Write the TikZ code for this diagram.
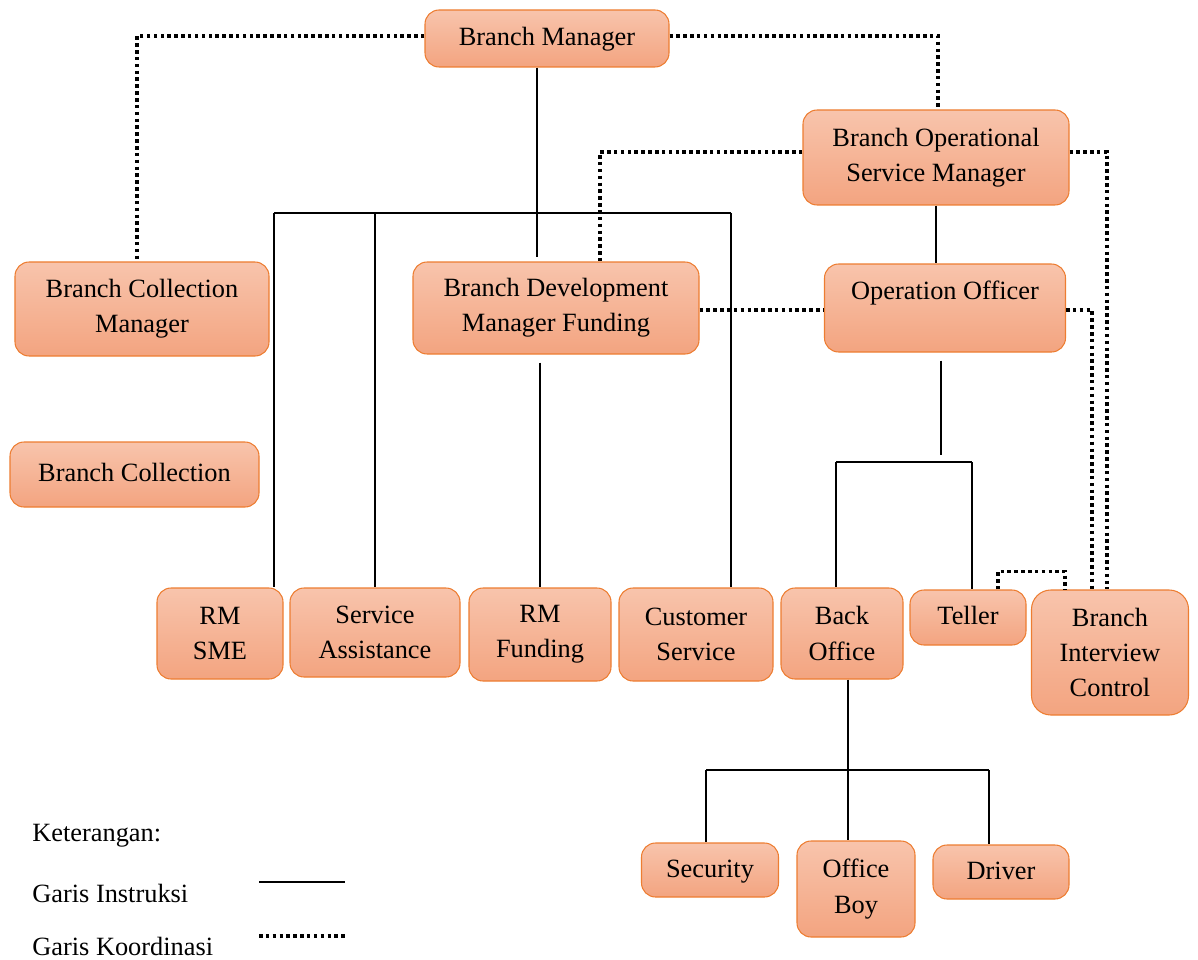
\documentclass[tikz,border=0pt]{standalone}
\usepackage{fontspec}
\setmainfont{Liberation Serif}
\usetikzlibrary{calc}

\definecolor{boxtop}{RGB}{248,196,172}
\definecolor{boxbot}{RGB}{243,164,128}
\definecolor{boxline}{RGB}{237,125,49}

\tikzset{
	box/.style={draw=boxline, line width=0.6pt, rounded corners=8pt, top color=boxtop, bottom color=boxbot, align=center, inner sep=0pt, font=\fontsize{15}{20}\selectfont},
	instr/.style={line width=0.6pt},
	instrthick/.style={line width=1.2pt},
	koord/.style={line width=2.2pt, dash pattern=on 2pt off 1.9pt},
	legend/.style={anchor=west, inner sep=0pt, font=\fontsize{15}{20}\selectfont}
}

\begin{document}
\begin{tikzpicture}
	\useasboundingbox (0,0) rectangle (23.96,-19.2);

% boxes

	% top
	\node[box, minimum width=4.88cm, minimum height=1.14cm] (bm) at (10.94,-0.77) {\strut Branch Manager};
	\node[box, minimum width=5.32cm, minimum height=1.9cm] (bosm) at (18.72,-3.15) {Branch Operational\\Service Manager};
	
	% middle
	\node[box, minimum width=5.08cm, minimum height=1.88cm] (bcm) at (2.84,-6.18) {Branch Collection\\Manager};
	\node[box, minimum width=5.72cm, minimum height=1.84cm] (bdm) at (11.12,-6.16) {Branch Development\\Manager Funding};
	\node[box, minimum width=4.82cm, minimum height=1.76cm] (oo) at (18.9,-6.16) {Operation Officer\\~};
	\node[box, minimum width=4.98cm, minimum height=1.3cm] (bc) at (2.69,-9.49) {\strut Branch Collection};
	
	% staff row
	\node[box, minimum width=2.52cm, minimum height=1.82cm] (rmsme) at (4.4,-12.67) {RM\\SME};
	\node[box, minimum width=3.4cm, minimum height=1.78cm] (sa) at (7.5,-12.65) {Service\\Assistance};
	\node[box, minimum width=2.84cm, minimum height=1.86cm] (rmf) at (10.8,-12.69) {RM\\Funding};
	\node[box, minimum width=3.08cm, minimum height=1.86cm] (cs) at (13.92,-12.69) {Customer\\Service};
	\node[box, minimum width=2.44cm, minimum height=1.82cm] (bo) at (16.84,-12.67) {Back\\Office};
	\node[box, minimum width=2.32cm, minimum height=1.1cm] (teller) at (19.36,-12.35) {\strut Teller};
	\node[box, rounded corners=11pt, minimum width=3.14cm, minimum height=2.5cm] (bic) at (22.2,-13.05) {Branch\\Interview\\Control};
	
	% bottom
	\node[box, minimum width=2.74cm, minimum height=1.08cm] (sec) at (14.2,-17.4) {\strut Security};
	\node[box, minimum width=2.36cm, minimum height=1.92cm] (ob) at (17.12,-17.78) {Office\\Boy};
	\node[box, minimum width=2.72cm, minimum height=1.08cm] (drv) at (20.02,-17.44) {\strut Driver};

% instruction lines

	\coordinate (trunk) at (10.74,-5.14);
	\coordinate (busL) at (5.48,-4.26);
	\coordinate (busR) at (14.62,-4.26);
	\draw[instrthick] (trunk |- bm.south) -- (trunk);
	\draw[instr] (busL) -- (busR);
	\draw[instr] (busL) -- (busL |- rmsme.north);
	\draw[instr] (sa.north |- busL) -- (sa.north);
	\draw[instr] (busR) -- (busR |- cs.north);
	\draw[instr] ([yshift=-0.16cm]bdm.south -| rmf.north) -- (rmf.north);
	
	\draw[instrthick] (bosm.south -| oo.north) ++(-0.18,0) coordinate (ootop) -- (ootop |- oo.north);
	\coordinate (oobus) at (18.82,-9.24);
	\coordinate (boL) at (16.72,-9.24);
	\coordinate (teR) at (19.44,-9.24);
	\draw[instr] ([yshift=-0.16cm]oo.south -| oobus) -- ([yshift=0.14cm]oobus);
	\draw[instr] (boL) -- (teR);
	\draw[instr] (boL) -- (boL |- bo.north);
	\draw[instr] (teR) -- (teR |- teller.north);
	
	\coordinate (obbus) at (16.96,-15.4);
	\coordinate (secL) at (14.12,-15.4);
	\coordinate (drvR) at (19.78,-15.4);
	\draw[instr] (bo.south -| obbus) -- (obbus |- ob.north);
	\draw[instr] (secL) -- (drvR);
	\draw[instr] (secL) -- (secL |- sec.north);
	\draw[instr] (drvR) -- (drvR |- drv.north);

% coordination lines

	\draw[koord] ([yshift=0.05cm]bm.west) -| ([xshift=-0.1cm]bcm.north);
	\draw[koord] ([yshift=0.05cm]bm.east) -| ([xshift=0.04cm]bosm.north);
	\draw[koord] ([yshift=0.11cm]bosm.west) -| ([xshift=0.88cm]bdm.north);
	\draw[koord] ([yshift=0.11cm]bosm.east) -| ([xshift=-0.06cm]bic.north);
	\draw[koord] ([yshift=-0.04cm]bdm.east) -- ([yshift=-0.04cm]oo.west);
	\draw[koord] ([yshift=-0.04cm]oo.east) -| ([xshift=-0.36cm]bic.north);
	\draw[koord] ([xshift=0.6cm]teller.north) -- ++(0,0.36) -| ([xshift=-0.9cm]bic.north);

% legend

	\node[legend] (ket) at (0.64,-16.72) {Keterangan:};
	\node[legend] (gi) at (0.64,-17.86) {Garis Instruksi};
	\node[legend] (gk) at (0.64,-18.92) {Garis Koordinasi};
	\coordinate (li1) at (5.18,-17.64);
	\coordinate (li2) at (6.9,-17.64);
	\coordinate (lk1) at (5.18,-18.72);
	\coordinate (lk2) at (6.9,-18.72);
	\draw[instr] (li1) -- (li2);
	\draw[koord] (lk1) -- (lk2);

\end{tikzpicture}
\end{document}
